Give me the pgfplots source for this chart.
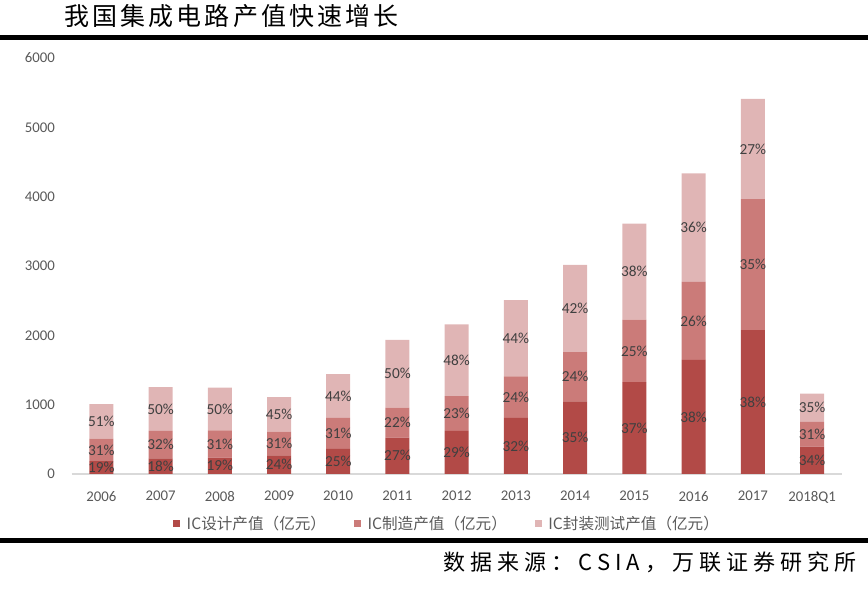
\documentclass[border=0pt]{standalone}
\usepackage{fontspec}
\setmainfont{Carlito}
\newfontfamily\cjk{Noto Sans CJK SC}
\newfontfamily\cjktitle[LetterSpace=12.6]{Noto Sans CJK SC}
\newfontfamily\cjksrc[LetterSpace=23]{Noto Sans CJK SC}
\usepackage{pgfplots}
\pgfplotsset{compat=1.18}
\usepackage{pgfplotstable}

\definecolor{design}{HTML}{B24A47}
\definecolor{fab}{HTML}{CB7B79}
\definecolor{pack}{HTML}{E0B5B5}
\definecolor{labtxt}{HTML}{404040}
\definecolor{ticktxt}{HTML}{595959}
\definecolor{baseln}{HTML}{D9D9D9}

% IC output (100 million yuan): design, manufacturing, packaging & test; shares as printed
\pgfplotstableread{
x d m p ld lm lp
0 186.2 323.5 496.6 19 31 51
1 225.7 397.9 627.7 18 32 50
2 235.2 392.7 618.9 19 31 50
3 269.9 341.1 498.2 24 31 45
4 363.9 447.1 629.2 25 31 44
5 526.4 431.6 975.7 27 22 50
6 621.7 501.1 1035.7 29 23 48
7 808.8 600.9 1098.9 32 24 44
8 1047.4 712.1 1255.9 35 24 42
9 1325.0 900.8 1384.0 37 25 38
10 1644.3 1126.9 1564.3 38 26 36
11 2073.5 1889.7 1448.1 38 35 27
12 394.2 358.6 405.5 34 31 35
}\ictable

\pgfplotsset{
  icframe/.style={width=770pt, height=416pt, scale only axis,
    xmin=-0.5, xmax=12.5, ymin=0, ymax=6000,
    at={(71.7pt,115pt)}, anchor=south west},
  seglab/.style={draw=none, nodes near coords={\pgfplotspointmeta\%},
    point meta=explicit symbolic,
    every node near coord/.style={anchor=center, inner sep=0pt,
      font=\fontsize{15.3}{15.3}\selectfont, text=labtxt}},
}

\begin{document}
\begin{tikzpicture}
\path[use as bounding box] (0,0) rectangle (868pt,589pt);
\fill[black] (0,549pt) rectangle (868pt,554pt);
\fill[black] (0,46pt) rectangle (868pt,51pt);
\node[anchor=base west, inner sep=0pt] at (64pt,563.5pt)
  {\cjktitle\fontsize{25}{25}\selectfont 我国集成电路产值快速增长};
\node[anchor=base east, inner sep=0pt] at (857pt,18.5pt)
  {\cjksrc\fontsize{22}{22}\selectfont 数据来源：CSIA，万联证券研究所};

\begin{axis}[icframe, ybar stacked, bar width=24pt,
  axis x line=bottom, axis y line=left, axis line style={-},
  x axis line style={draw=baseln, line width=1.3pt},
  y axis line style={draw=none},
  tick style={draw=none},
  xtick={0,...,12},
  xticklabels={2006,2007,2008,2009,2010,2011,2012,2013,2014,2015,2016,2017,2018Q1},
  ytick={0,1000,...,6000},
  scaled y ticks=false,
  /pgf/number format/1000 sep={},
  /pgf/number format/assume math mode=true,
  ticklabel style={font=\fontsize{14.8}{14.8}\selectfont, text=ticktxt},
  xticklabel style={anchor=north, inner sep=0pt, yshift=-15pt},
  yticklabel style={anchor=east, inner sep=0pt, xshift=-14.5pt},
  legend columns=3,
  legend style={at={(0.4875,-0.1202)}, anchor=center, draw=none, fill=none,
    font=\cjk\fontsize{15.6}{15.6}\selectfont, text=ticktxt,
    /tikz/every even column/.append style={column sep=26pt}},
  legend cell align=left,
  legend image code/.code={\fill[#1] (0pt,-3.5pt) rectangle (7pt,3.5pt);
    \path (11.5pt,0pt);},
  ]
  \addplot[fill=design, draw=none] table[x=x, y=d] {\ictable};
  \addlegendentry{IC设计产值（亿元）}
  \addplot[fill=fab, draw=none] table[x=x, y=m] {\ictable};
  \addlegendentry{IC制造产值（亿元）}
  \addplot[fill=pack, draw=none] table[x=x, y=p] {\ictable};
  \addlegendentry{IC封装测试产值（亿元）}
\end{axis}

\begin{axis}[icframe, hide axis, clip=false]
  \addplot[seglab] table[x=x, y expr=\thisrow{d}/2, meta=ld] {\ictable};
  \addplot[seglab] table[x=x, y expr=\thisrow{d}+\thisrow{m}/2, meta=lm] {\ictable};
  \addplot[seglab] table[x=x, y expr=\thisrow{d}+\thisrow{m}+\thisrow{p}/2, meta=lp] {\ictable};
\end{axis}
\end{tikzpicture}
\end{document}
